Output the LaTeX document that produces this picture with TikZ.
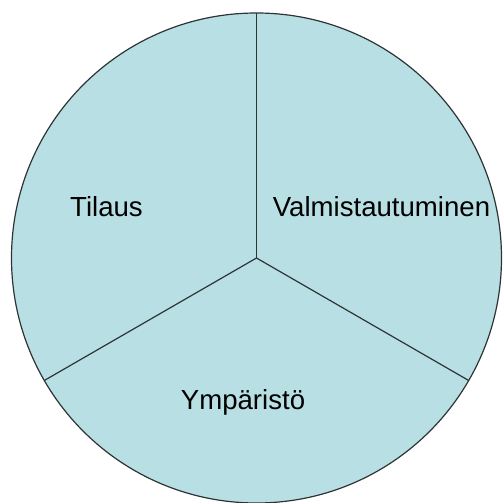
\documentclass[tikz,border=0pt]{standalone}
\usepackage{fontspec}
\setmainfont{Liberation Sans}
\usetikzlibrary{calc}
\usepackage{xcolor}
\definecolor{piefill}{HTML}{B8DFE3}
\definecolor{pieline}{HTML}{2E3436}
\tikzset{
  sector/.style={draw=pieline, line width=0.6pt},
  lbl/.style={anchor=base, inner sep=0pt, text=black,
              font=\fontsize{13.8}{16}\selectfont},
}

\begin{document}
\begin{tikzpicture}[x=0.5pt, y=-0.5pt]
  \useasboundingbox (0,0) rectangle (504,503);

  % Pie outline and centre
  \coordinate (c) at (256.5, 258);
  \fill[piefill] (c) circle[radius=245];
  \draw[sector] (c) circle[radius=245];

  % Rim points for the three sectors
  \coordinate (top) at ($(c)+(0,-245)$);
  \coordinate (lowl) at ($(c)+(-212.2,122.5)$);
  \coordinate (lowr) at ($(c)+(212.2,122.5)$);

  % Dividers
  \draw[sector] (c) -- (top);
  \draw[sector] (c) -- (lowl);
  \draw[sector] (c) -- (lowr);

  % Labels
  \node[lbl] (tilaus) at (106.5, 216) {Tilaus};
  \node[lbl] (valm) at (381.5, 216) {Valmistautuminen};
  \node[lbl] (ymp) at (243, 409.5) {Ympäristö};
\end{tikzpicture}
\end{document}
